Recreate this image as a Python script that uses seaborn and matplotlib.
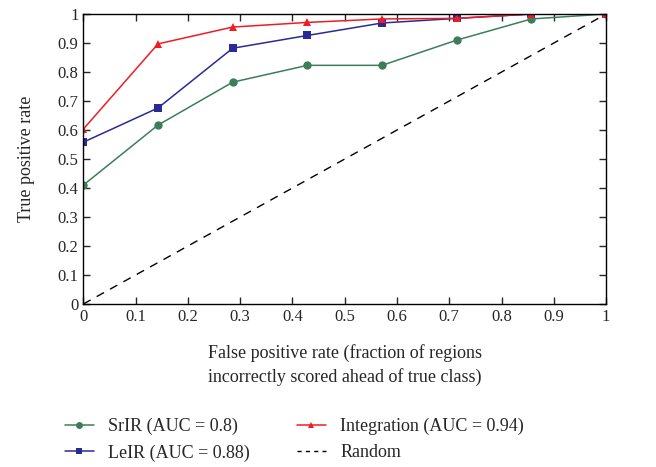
import numpy as np
import pandas as pd
import matplotlib
matplotlib.use("Agg")
import matplotlib.pyplot as plt
import seaborn as sns
from matplotlib.lines import Line2D

# --- Data ---
fpr = [0, 1/7, 2/7, 3/7, 4/7, 5/7, 6/7, 1]
srir = [0.41, 0.617, 0.765, 0.823, 0.823, 0.91, 0.983, 1.0]
leir = [0.558, 0.676, 0.882, 0.926, 0.969, 0.985, 1.0, 1.0]
integ = [0.603, 0.897, 0.955, 0.971, 0.983, 0.985, 1.0, 1.0]
labels = ["SrIR (AUC = 0.8)", "LeIR (AUC = 0.88)", "Integration (AUC = 0.94)"]
random_x = [0, 1]
random_y = [0, 1]

colors = ["#3d7d5a", "#2a2a96", "#ee1c25"]
markers = ["o", "s", "^"]

df = pd.concat([
    pd.DataFrame({"fpr": fpr, "tpr": vals, "series": lab})
    for vals, lab in zip([srir, leir, integ], labels)
])

sns.set_style("ticks")
plt.rcParams["font.family"] = ["Liberation Serif", "DejaVu Serif"]

fig = plt.figure(figsize=(6.56, 4.67), dpi=100)
ax = fig.add_axes([0.127, 0.349, 0.797, 0.621])

sns.lineplot(data=df, x="fpr", y="tpr", hue="series", style="series",
             palette=dict(zip(labels, colors)), markers=dict(zip(labels, markers)),
             dashes=False, markersize=6, markeredgewidth=0, linewidth=1.1,
             ax=ax, legend=False)
sns.lineplot(x=random_x, y=random_y, color="black", linewidth=1.0, ax=ax,
             linestyle=(0, (6, 5)), legend=False)

ax.set_xlim(0, 1)
ax.set_ylim(0, 1)
ticks = np.round(np.arange(0, 1.01, 0.1), 1)
ticklabels = ["0"] + [f"{t:.1f}" for t in ticks[1:-1]] + ["1"]
ax.set_xticks(ticks)
ax.set_xticklabels(ticklabels)
ax.set_yticks(ticks)
ax.set_yticklabels(ticklabels)
ax.tick_params(direction="in", top=True, right=True, labelsize=12, length=5, width=1)
for s in ax.spines.values():
    s.set_linewidth(1.0)
    s.set_color("black")

ax.set_xlabel("False positive rate (fraction of regions\nincorrectly scored ahead of true class)",
              fontsize=13, labelpad=14, multialignment="center", linespacing=1.45)
ax.set_ylabel("True positive rate", fontsize=13, labelpad=16)

handles = [Line2D([], [], color=c, marker=m, markersize=5, markeredgewidth=0, linewidth=1.1)
           for c, m in zip(colors, markers)]
handles.append(Line2D([], [], color="black", linewidth=1.0, linestyle=(0, (3, 3))))
leg_labels = labels + ["Random"]
fig.legend(handles, leg_labels, loc="upper left", bbox_to_anchor=(0.099, 0.105),
           ncol=2, frameon=False, fontsize=13, columnspacing=2.6, handlelength=1.6,
           handletextpad=0.8, labelspacing=0.5, borderpad=0, borderaxespad=0)

fig.savefig("out.png", dpi=100)
